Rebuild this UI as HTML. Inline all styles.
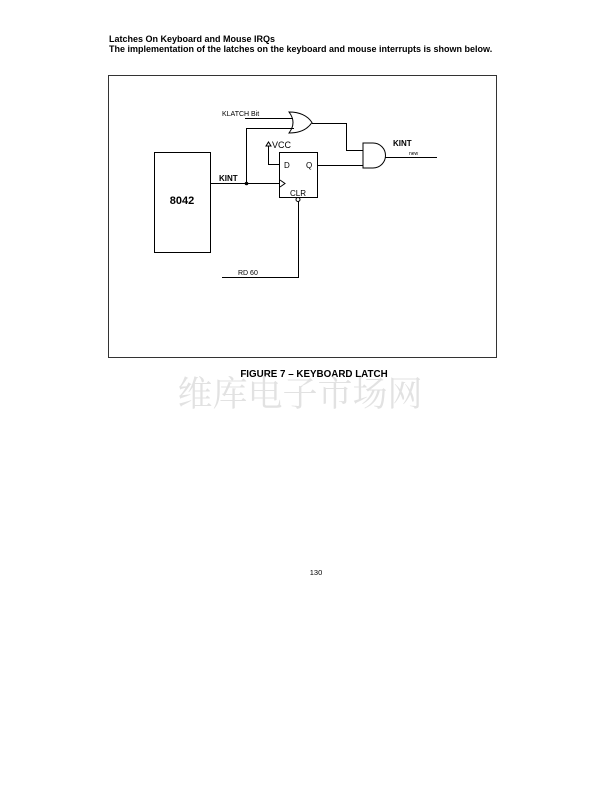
<!DOCTYPE html>
<html><head><style>
body{margin:0;background:#fff;width:612px;height:792px;position:relative;overflow:hidden;font-family:"Liberation Sans",sans-serif;}
.t{position:absolute;white-space:nowrap;color:#000;}
</style></head><body>
<div class="t" style="left:109px;top:34px;font-size:9px;font-weight:bold;">Latches On Keyboard and Mouse IRQs</div>
<div class="t" style="left:109px;top:44px;font-size:9px;font-weight:bold;">The implementation of the latches on the keyboard and mouse interrupts is shown below.</div>
<svg width="612" height="792" style="position:absolute;left:0;top:0" font-family="Liberation Sans, sans-serif">
<rect x="108.5" y="75.5" width="388" height="282" fill="none" stroke="#333" stroke-width="1"/>
<rect x="154.5" y="152.5" width="56" height="100" fill="none" stroke="#000"/>
<text x="182" y="204" font-size="11" font-weight="bold" text-anchor="middle">8042</text>
<g stroke="#000" fill="none" stroke-width="1">
<line x1="210" y1="183.5" x2="280" y2="183.5"/>
<line x1="246.5" y1="183" x2="246.5" y2="128"/>
<line x1="246" y1="128.5" x2="294" y2="128.5"/>
<line x1="245" y1="118.5" x2="293" y2="118.5"/>
<path d="M289,112 Q297,122.5 289,133 Q305,133 312,122.5 Q305,112 289,112 Z"/>
<polyline points="312,123.5 346.5,123.5 346.5,150.5 363,150.5"/>
<path d="M363,143 L373,143 A12.5,12.5 0 0 1 373,168 L363,168 Z"/>
<line x1="385" y1="157.5" x2="437" y2="157.5"/>
<line x1="317" y1="165.5" x2="363" y2="165.5"/>
<rect x="279.5" y="152.5" width="38" height="45"/>
<polyline points="280,180 285,183.5 280,187"/>
<polyline points="268.5,146 268.5,164.5 279,164.5"/>
<polygon points="266,146 268.5,142 271,146"/>
<circle cx="298" cy="199.5" r="2"/>
<polyline points="298.5,201.5 298.5,277.5 222,277.5"/>
</g>
<circle cx="246.5" cy="183.5" r="1.8" fill="#000"/>
<text x="222" y="116" font-size="7">KLATCH Bit</text>
<text x="272" y="148" font-size="9">VCC</text>
<text x="284" y="168" font-size="8">D</text>
<text x="306" y="168" font-size="8">Q</text>
<text x="290" y="196" font-size="8">CLR</text>
<text x="219" y="181" font-size="8" font-weight="bold">KINT</text>
<text x="393" y="146" font-size="8" font-weight="bold">KINT</text>
<text x="409" y="155" font-size="5">new</text>
<text x="238" y="275" font-size="7">RD 60</text>
<text x="314" y="377" font-size="9.8" font-weight="bold" text-anchor="middle">FIGURE 7 – KEYBOARD LATCH</text>
<text x="300" y="406" font-size="35" fill="#e2e2e2" text-anchor="middle" font-family="Noto Serif CJK SC, serif">维库电子市场网</text>
<text x="316" y="575" font-size="7.5" text-anchor="middle">130</text>
</svg>
</body></html>
